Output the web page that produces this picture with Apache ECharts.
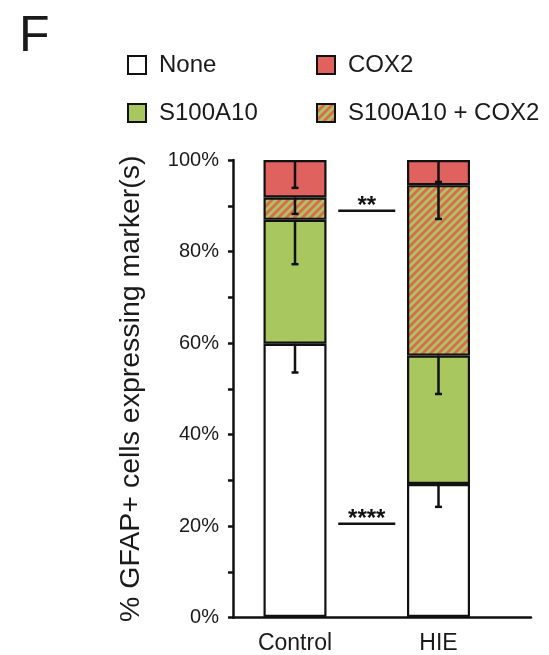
<!DOCTYPE html>
<html>
<head>
<meta charset="utf-8">
<script src="https://cdn.jsdelivr.net/npm/echarts@6/dist/echarts.min.js"></script>
<style>
html,body{margin:0;padding:0;background:#fff;}
#chart{width:549px;height:655px;}
</style>
</head>
<body>
<div id="chart"></div>
<script>
// ---- data ----
const categories = ['Control', 'HIE'];
const seriesNames = ['None', 'S100A10', 'S100A10 + COX2', 'COX2'];
const noneVals = [59.8, 29.1];
const s100Vals = [27.1, 28.1];
const bothVals = [4.9, 37.3];
const cox2Vals = [8.2, 5.5];
const noneErr = [6.3, 5.0];
const s100Err = [9.7, 8.4];
const bothErr = [3.6, 7.4];
const cox2Err = [6.1, 4.8];
const yLabelValues = [0, 20, 40, 60, 80, 100];
const sigY = [88.9, 20.4];
const sigText = ['**', '****'];

// ---- styles ----
const FONT = '"Liberation Sans", Arial, Helvetica, sans-serif';
const TXT = '#1a1a1a';
const RED = '#e0625f';
const GREEN = '#a8c75f';
const RED_H = '#dc6a4c';
const GREEN_H = '#aac466';

function makeHatch() {
  const P = 8;
  const c = document.createElement('canvas');
  c.width = P; c.height = P;
  const g = c.getContext('2d');
  g.fillStyle = GREEN_H;
  g.fillRect(0, 0, P, P);
  g.strokeStyle = RED_H;
  g.lineWidth = P / Math.SQRT2 / 2;
  for (let k = 0; k <= 2; k++) {
    g.beginPath();
    g.moveTo(k * P + P, -P);
    g.lineTo(k * P - 2 * P, 2 * P);
    g.stroke();
  }
  return { image: c, repeat: 'repeat' };
}
const hatch = makeHatch();

const valueSets = [noneVals, s100Vals, bothVals, cox2Vals];
const errSets = [noneErr, s100Err, bothErr, cox2Err];
const fills = ['#ffffff', GREEN, hatch, RED];

// error bar data: [catIndex, top, bottom]
const errData = [];
categories.forEach((c, i) => {
  let cum = 0;
  valueSets.forEach((vals, s) => {
    cum += vals[i];
    errData.push([i, cum, cum - errSets[s][i]]);
  });
});
const sigData = sigY.map((y, k) => [0, 1, y, sigText[k]]);

const GRID_TOP = 160, GRID_BOTTOM = 37.5;

const barSeries = seriesNames.map((name, s) => ({
  name: name,
  type: 'bar',
  stack: 'total',
  xAxisIndex: 0,
  yAxisIndex: 0,
  barWidth: 63,
  data: valueSets[s],
  itemStyle: { color: fills[s], borderColor: '#111', borderWidth: 2.2 },
  emphasis: { disabled: true },
  z: 2
}));

const legendPos = [
  { name: 'None', left: 122, top: 48 },
  { name: 'COX2', left: 311, top: 48 },
  { name: 'S100A10', left: 122, top: 96 },
  { name: 'S100A10 + COX2', left: 311, top: 96 }
];

const option = {
  animation: false,
  backgroundColor: '#fff',
  title: {
    text: 'F', left: 14, top: 7,
    textStyle: { fontFamily: FONT, fontSize: 50, fontWeight: 'normal', color: TXT }
  },
  legend: legendPos.map(l => ({
    data: [l.name],
    left: l.left, top: l.top,
    selectedMode: false,
    icon: 'rect',
    itemWidth: 18, itemHeight: 18,
    itemStyle: { borderColor: '#111', borderWidth: 2 },
    textStyle: { fontFamily: FONT, fontSize: 24, color: TXT, padding: [0, 0, 0, 8] }
  })),
  grid: [
    { left: 223.25, width: 287, top: GRID_TOP, bottom: GRID_BOTTOM },
    { left: 233, right: 18, top: GRID_TOP, bottom: GRID_BOTTOM }
  ],
  xAxis: [
    {
      gridIndex: 0, type: 'category', data: categories,
      axisLine: { show: false }, axisTick: { show: false },
      axisLabel: { fontFamily: FONT, fontSize: 23, color: TXT, margin: 15 }
    },
    {
      gridIndex: 1, type: 'value', min: 0, max: 1,
      axisLine: { show: true, lineStyle: { color: '#111', width: 2.5 } },
      axisTick: { show: false }, axisLabel: { show: false }, splitLine: { show: false }
    }
  ],
  yAxis: [
    { gridIndex: 0, type: 'value', min: 0, max: 100, show: false },
    {
      gridIndex: 1, type: 'value', min: 0, max: 100, interval: 10,
      name: '% GFAP+ cells expressing marker(s)',
      nameLocation: 'middle', nameGap: 87, nameRotate: 90,
      nameTextStyle: { fontFamily: FONT, fontSize: 28.5, color: TXT },
      axisLine: { show: true, lineStyle: { color: '#111', width: 2.5 } },
      axisTick: { show: true, length: 5, lineStyle: { color: '#111', width: 2.5 } },
      axisLabel: {
        fontFamily: FONT, fontSize: 20, color: TXT, margin: 14,
        formatter: v => yLabelValues.indexOf(v) >= 0 ? v + '%' : ''
      },
      splitLine: { show: false }
    }
  ],
  series: barSeries.concat([
    {
      type: 'custom', name: 'err', xAxisIndex: 0, yAxisIndex: 0, z: 5,
      silent: true,
      data: errData,
      renderItem: function (params, api) {
        const p1 = api.coord([api.value(0), api.value(1)]);
        const p2 = api.coord([api.value(0), api.value(2)]);
        return {
          type: 'group',
          children: [
            { type: 'line', shape: { x1: p1[0], y1: p1[1], x2: p2[0], y2: p2[1] },
              style: { stroke: '#111', lineWidth: 2.5 } },
            { type: 'line', shape: { x1: p2[0] - 3.5, y1: p2[1], x2: p2[0] + 3.5, y2: p2[1] },
              style: { stroke: '#111', lineWidth: 2.5 } }
          ]
        };
      }
    },
    {
      type: 'custom', name: 'sig', xAxisIndex: 0, yAxisIndex: 0, z: 5,
      silent: true,
      data: sigData,
      renderItem: function (params, api) {
        const y = api.value(2);
        const a = api.coord([api.value(0), y]);
        const b = api.coord([api.value(1), y]);
        const mx = (a[0] + b[0]) / 2;
        const half = 28.5;
        return {
          type: 'group',
          children: [
            { type: 'line', shape: { x1: mx - half, y1: a[1], x2: mx + half, y2: a[1] },
              style: { stroke: '#111', lineWidth: 2.5 } },
            { type: 'text', x: mx, y: a[1] - 4,
              style: { text: sigData[params.dataIndex][3], fill: '#111',
                font: 'bold 24px ' + FONT, align: 'center', verticalAlign: 'middle' } }
          ]
        };
      }
    }
  ])
};

const chart = echarts.init(document.getElementById('chart'), null, { renderer: 'canvas' });
chart.setOption(option);
</script>
</body>
</html>
